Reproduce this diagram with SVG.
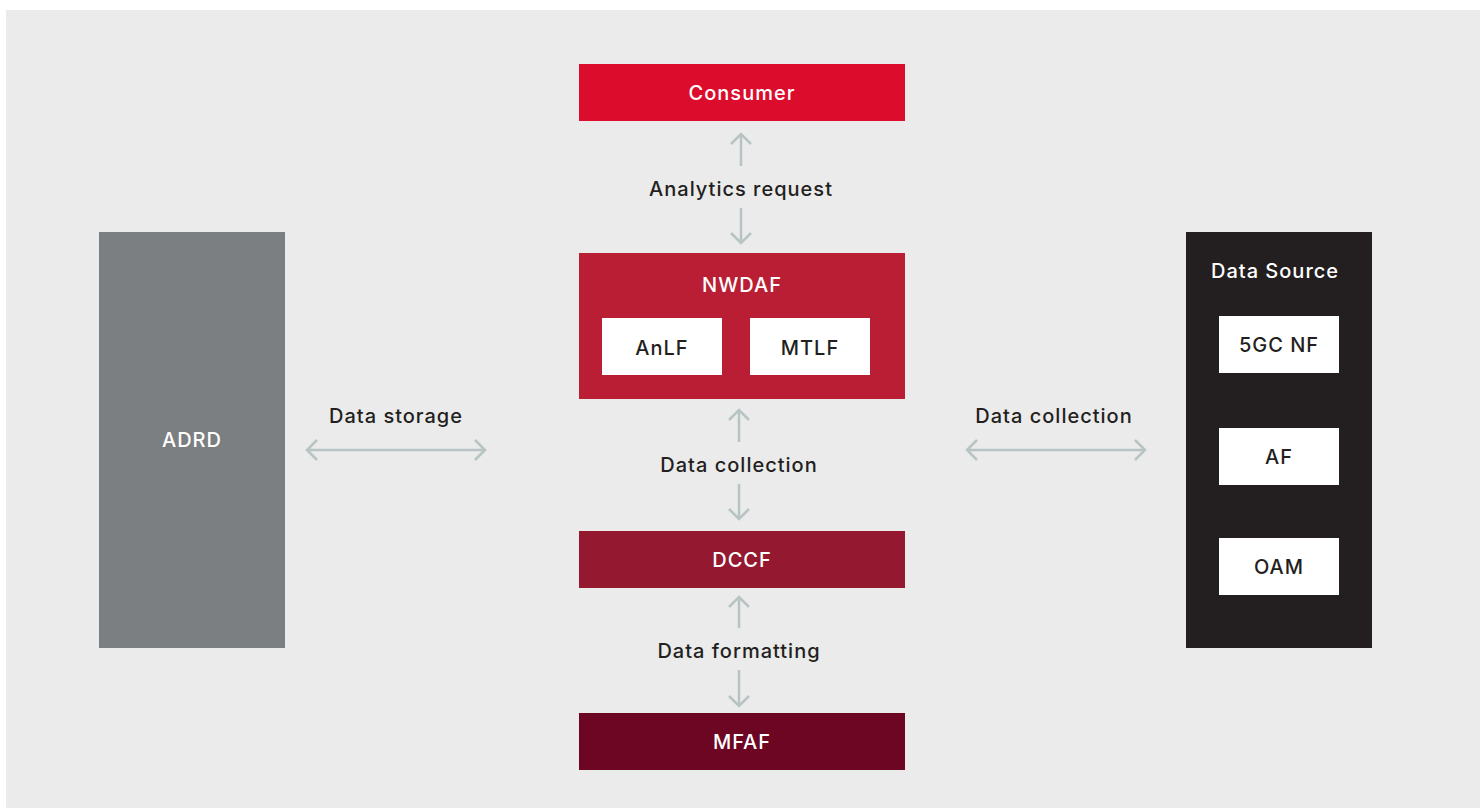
<svg xmlns="http://www.w3.org/2000/svg" width="1480" height="808" viewBox="0 0 1480 808">
<style>
.lbl,.wt,.dk{font-family:Inter,"Noto Sans","Liberation Sans",sans-serif;font-weight:500;font-size:20px;letter-spacing:1px;text-anchor:middle;dominant-baseline:central}
.lbl,.dk{fill:#231F20}
.wt{fill:#FFFFFF}
.arr{fill:none;stroke:#B8C4C3;stroke-width:2.5}
.box{fill:#FFFFFF}
</style>
<rect x="6" y="10" width="1474" height="798" fill="#EBEBEB"/>
<g id="connectors">
<g id="c-analytics">
<path class="arr" d="M741,134 V166 M731,144 L741,134 L751,144"/>
<path class="arr" d="M741,208 V243 M731,233 L741,243 L751,233"/>
<text class="lbl" x="741" y="189">Analytics request</text>
</g>
<g id="c-datacollection-v">
<path class="arr" d="M739,410 V442 M729,420 L739,410 L749,420"/>
<path class="arr" d="M739,484 V519 M729,509 L739,519 L749,509"/>
<text class="lbl" x="739" y="465">Data collection</text>
</g>
<g id="c-formatting">
<path class="arr" d="M739,597 V628 M729,607 L739,597 L749,607"/>
<path class="arr" d="M739,670 V706 M729,696 L739,706 L749,696"/>
<text class="lbl" x="739" y="651">Data formatting</text>
</g>
<g id="c-storage">
<path class="arr" d="M307,450 H485 M317,440 L307,450 L317,460 M475,440 L485,450 L475,460"/>
<text class="lbl" x="396" y="416">Data storage</text>
</g>
<g id="c-datacollection-h">
<path class="arr" d="M967,450 H1145 M977,440 L967,450 L977,460 M1135,440 L1145,450 L1135,460"/>
<text class="lbl" x="1054" y="416">Data collection</text>
</g>
</g>
<g id="consumer">
<rect x="579" y="64" width="326" height="57" fill="#DC0C2C"/>
<text class="wt" x="742" y="93">Consumer</text>
</g>
<g id="nwdaf">
<rect x="579" y="253" width="326" height="146" fill="#BA1E34"/>
<text class="wt" x="742" y="285">NWDAF</text>
<g id="anlf">
<rect class="box" x="602" y="318" width="120" height="57"/>
<text class="dk" x="662" y="348">AnLF</text>
</g>
<g id="mtlf">
<rect class="box" x="750" y="318" width="120" height="57"/>
<text class="dk" x="810" y="348">MTLF</text>
</g>
</g>
<g id="dccf">
<rect x="579" y="531" width="326" height="57" fill="#931830"/>
<text class="wt" x="742" y="560">DCCF</text>
</g>
<g id="mfaf">
<rect x="579" y="713" width="326" height="57" fill="#6C0623"/>
<text class="wt" x="742" y="742">MFAF</text>
</g>
<g id="adrd">
<rect x="99" y="232" width="186" height="416" fill="#7C7F82"/>
<text class="wt" x="192" y="440">ADRD</text>
</g>
<g id="datasource">
<rect x="1186" y="232" width="186" height="416" fill="#231F20"/>
<text class="wt" x="1275" y="271">Data Source</text>
<g id="n5gc">
<rect class="box" x="1219" y="316" width="120" height="57"/>
<text class="dk" x="1279" y="345">5GC NF</text>
</g>
<g id="af">
<rect class="box" x="1219" y="428" width="120" height="57"/>
<text class="dk" x="1279" y="457">AF</text>
</g>
<g id="oam">
<rect class="box" x="1219" y="538" width="120" height="57"/>
<text class="dk" x="1279" y="567">OAM</text>
</g>
</g>
</svg>
